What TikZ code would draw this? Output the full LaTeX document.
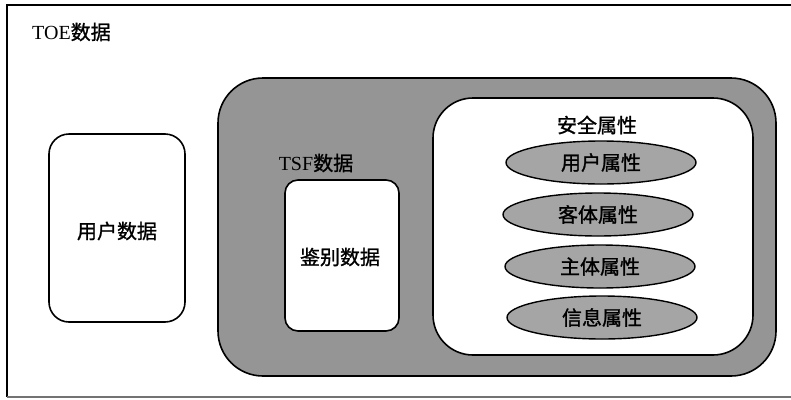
\documentclass[tikz,border=0pt]{standalone}
\usepackage{fontspec}
\setmainfont{Liberation Serif}
\newfontfamily\cjk[FakeBold=1.2]{Noto Sans CJK SC}
\usetikzlibrary{shapes.geometric}
\definecolor{darkfill}{HTML}{959595}
\definecolor{ellfill}{HTML}{A5A5A5}
\tikzset{
  lbl/.style={font=\fontsize{20}{24}\selectfont, inner sep=0pt},
  roundbox/.style={draw=black, line width=1.6pt, inner sep=0pt},
  attr/.style={ellipse, draw=black, line width=1.4pt, fill=ellfill, minimum width=190pt, minimum height=43pt, inner sep=0pt, font=\fontsize{20}{24}\selectfont\cjk},
  frame/.style={draw=black, line width=1.6pt}
}
\begin{document}
\begin{tikzpicture}[x=1pt,y=-1pt]
\useasboundingbox[fill=white] (0,0) rectangle (791,399);
% outer frame
\draw[frame] (791,5) -- (7,5) -- (7,397);
\draw[draw=black!55, line width=1.6pt] (7,397) -- (791,397);
\node[lbl, anchor=west] (toe) at (32,32) {TOE{\cjk 数据}};
% user data box
\node[roundbox, rounded corners=20pt, fill=white, minimum width=136pt, minimum height=188pt] (user) at (117,228) {};
\node[lbl, font=\fontsize{20}{24}\selectfont\cjk] (userlbl) at (117,231) {用户数据};
% TSF region
\node[roundbox, rounded corners=45pt, fill=darkfill, minimum width=558pt, minimum height=298pt] (tsf) at (497,227) {};
\node[lbl] (tsflbl) at (316,163) {TSF{\cjk 数据}};
\node[roundbox, rounded corners=13pt, fill=white, minimum width=114pt, minimum height=151pt] (auth) at (342,255.5) {};
\node[lbl, font=\fontsize{20}{24}\selectfont\cjk] (authlbl) at (340,257) {鉴别数据};
% security attributes
\node[roundbox, rounded corners=40pt, fill=white, minimum width=320pt, minimum height=257pt] (sec) at (593,226.5) {};
\node[lbl, font=\fontsize{20}{24}\selectfont\cjk] (seclbl) at (597,125) {安全属性};
\node[attr] (a1) at (601,162.5) {用户属性};
\node[attr] (a2) at (598,214.5) {客体属性};
\node[attr] (a3) at (600,266.5) {主体属性};
\node[attr] (a4) at (602,317.5) {信息属性};
\end{tikzpicture}
\end{document}
